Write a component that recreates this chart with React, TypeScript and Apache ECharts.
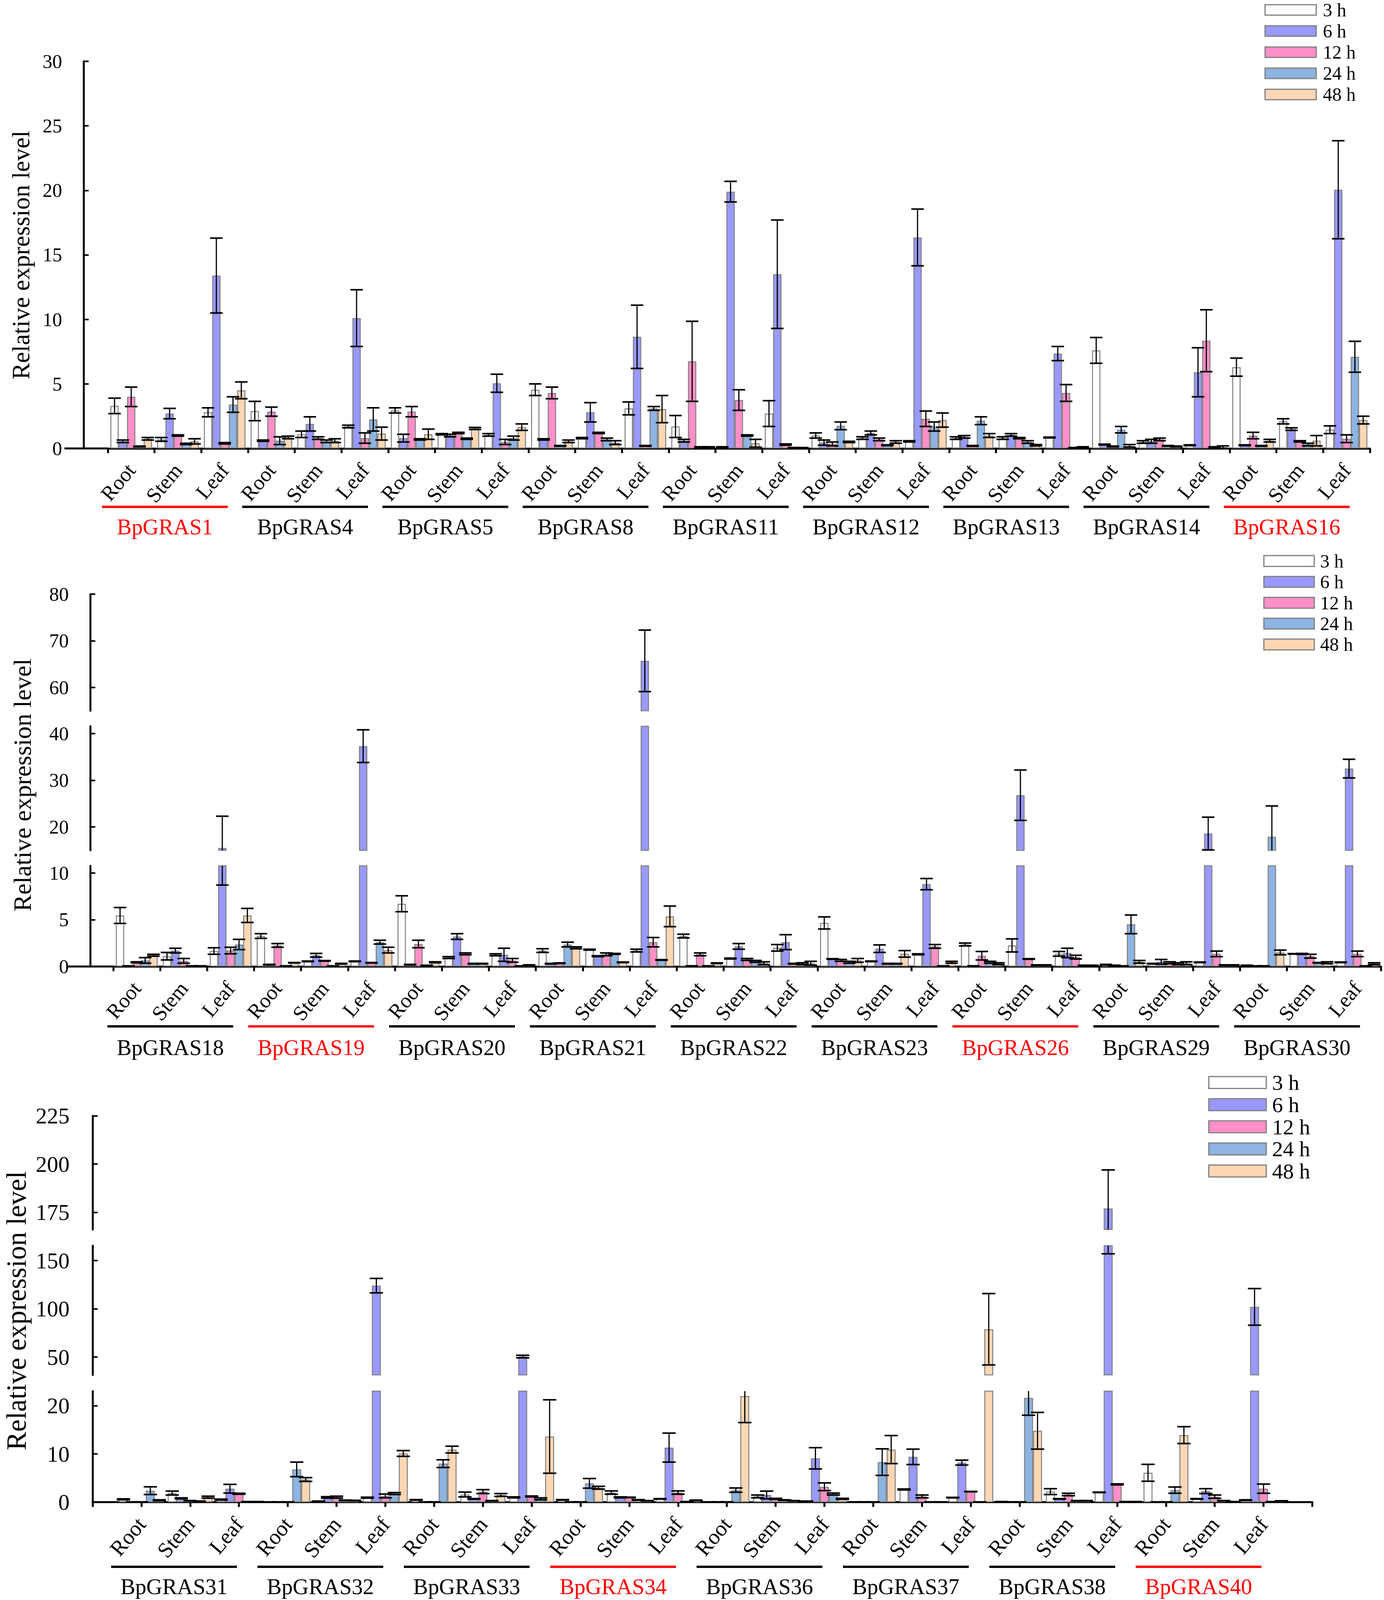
import React, { useEffect, useRef } from 'react';
import * as echarts from 'echarts';

const FONT = "'Liberation Serif', 'Times New Roman', serif";
const TIMES = ['3 h', '6 h', '12 h', '24 h', '48 h'];
const TISSUES = ['Root', 'Stem', 'Leaf'];
const COLORS = ['#FFFFFF', '#9999FF', '#FF8FC8', '#8DB4E2', '#FDD7B4'];
const RED_GENES = ['BpGRAS1', 'BpGRAS16', 'BpGRAS19', 'BpGRAS26', 'BpGRAS34', 'BpGRAS40'];
const Y_TITLE = 'Relative expression level';

// ---------- Panel 1 ----------
const GENES_1 = ['BpGRAS1', 'BpGRAS4', 'BpGRAS5', 'BpGRAS8', 'BpGRAS11', 'BpGRAS12', 'BpGRAS13', 'BpGRAS14', 'BpGRAS16'];
const P1_3H = [3.3, 0.7, 2.8, 2.9, 1.1, 1.7, 2.95, 1.1, 1.05, 4.55, 0.8, 3.1, 1.7, 0.1, 2.7, 1.0, 0.8, 0.55, 0.8, 0.8, 0.85, 7.6, 0.5, 0.25, 6.3, 2.1, 1.45];
const P1_3H_SD = [0.6, 0.15, 0.35, 0.75, 0.25, 0.1, 0.2, 0.05, 0.1, 0.45, 0.05, 0.5, 0.85, 0.03, 1.0, 0.2, 0.1, 0.05, 0.1, 0.1, 0.03, 1.0, 0.1, 0.03, 0.7, 0.2, 0.3];
const P1_6H = [0.55, 2.7, 13.4, 0.6, 1.9, 10.1, 0.8, 1.0, 5.05, 0.7, 2.8, 8.65, 0.6, 19.9, 13.5, 0.45, 1.2, 16.35, 0.9, 1.05, 7.35, 0.3, 0.55, 5.9, 0.25, 1.5, 20.05];
const P1_6H_SD = [0.1, 0.4, 2.9, 0.05, 0.55, 2.2, 0.3, 0.1, 0.7, 0.05, 0.75, 2.45, 0.1, 0.8, 4.2, 0.2, 0.15, 2.2, 0.1, 0.1, 0.55, 0.03, 0.15, 1.9, 0.03, 0.1, 3.8];
const P1_12H = [4.0, 1.0, 0.4, 2.85, 0.8, 0.8, 2.85, 1.2, 0.5, 4.3, 1.2, 0.2, 6.75, 3.75, 0.3, 0.35, 0.7, 2.3, 0.2, 0.8, 4.3, 0.15, 0.7, 8.35, 1.0, 0.55, 0.75];
const P1_12H_SD = [0.75, 0.05, 0.05, 0.35, 0.1, 0.4, 0.4, 0.05, 0.2, 0.45, 0.05, 0.03, 3.1, 0.8, 0.05, 0.15, 0.1, 0.6, 0.03, 0.05, 0.65, 0.03, 0.1, 2.4, 0.25, 0.05, 0.3];
const P1_24H = [0.15, 0.35, 3.4, 0.6, 0.55, 2.25, 0.7, 0.75, 0.8, 0.2, 0.7, 3.1, 0.1, 1.0, 0.05, 1.75, 0.25, 1.7, 2.15, 0.5, 0.05, 1.45, 0.2, 0.1, 0.2, 0.3, 7.1];
const P1_24H_SD = [0.03, 0.05, 0.6, 0.3, 0.1, 0.9, 0.05, 0.05, 0.15, 0.03, 0.1, 0.15, 0.03, 0.05, 0.02, 0.3, 0.03, 0.35, 0.3, 0.1, 0.02, 0.25, 0.03, 0.03, 0.03, 0.1, 1.2];
const P1_48H = [0.75, 0.55, 4.5, 0.85, 0.6, 1.15, 1.1, 1.55, 1.65, 0.55, 0.45, 3.05, 0.1, 0.4, 0.05, 0.5, 0.5, 2.2, 1.0, 0.25, 0.1, 0.2, 0.15, 0.1, 0.6, 0.6, 2.2];
const P1_48H_SD = [0.1, 0.2, 0.65, 0.1, 0.15, 0.5, 0.4, 0.08, 0.25, 0.1, 0.15, 1.05, 0.03, 0.3, 0.02, 0.05, 0.1, 0.55, 0.15, 0.05, 0.03, 0.1, 0.03, 0.1, 0.1, 0.4, 0.3];

// ---------- Panel 2 ----------
const GENES_2 = ['BpGRAS18', 'BpGRAS19', 'BpGRAS20', 'BpGRAS21', 'BpGRAS22', 'BpGRAS23', 'BpGRAS26', 'BpGRAS29', 'BpGRAS30'];
const P2_3H = [5.45, 1.1, 1.65, 3.25, 0.55, 0.55, 6.7, 0.95, 1.25, 1.7, 1.8, 1.7, 3.25, 0.85, 2.0, 4.65, 0.55, 1.3, 2.35, 2.25, 1.35, 0.2, 0.3, 0.45, 0.1, 1.35, 0.45];
const P2_3H_SD = [0.85, 0.4, 0.35, 0.25, 0.03, 0.03, 0.85, 0.1, 0.1, 0.2, 0.05, 0.15, 0.2, 0.05, 0.35, 0.65, 0.03, 0.05, 0.15, 0.7, 0.25, 0.03, 0.03, 0.03, 0.03, 0.03, 0.03];
const P2_6H = [0.05, 1.7, 15.5, 0.2, 1.2, 37.3, 0.2, 3.2, 1.25, 0.3, 1.1, 65.7, 0.05, 2.15, 2.6, 0.8, 1.9, 8.8, 0.05, 26.8, 1.45, 0.1, 0.5, 18.6, 0.05, 1.35, 32.5];
const P2_6H_SD = [0.02, 0.25, 6.8, 0.03, 0.2, 3.5, 0.03, 0.3, 0.7, 0.03, 0.05, 6.6, 0.02, 0.3, 0.8, 0.03, 0.4, 0.6, 0.02, 5.4, 0.5, 0.03, 0.25, 3.5, 0.02, 0.05, 2.0];
const P2_12H = [0.45, 0.6, 1.7, 2.25, 0.6, 0.4, 2.4, 1.35, 0.65, 0.35, 1.3, 2.6, 1.3, 0.75, 0.3, 0.65, 0.3, 2.15, 1.15, 0.8, 1.0, 0.05, 0.4, 1.35, 0.05, 1.1, 1.35];
const P2_12H_SD = [0.05, 0.25, 0.35, 0.2, 0.03, 0.03, 0.4, 0.1, 0.2, 0.03, 0.15, 0.5, 0.15, 0.1, 0.03, 0.1, 0.03, 0.2, 0.45, 0.03, 0.2, 0.02, 0.1, 0.3, 0.02, 0.2, 0.3];
const P2_24H = [0.65, 0.05, 2.35, 0.05, 0.05, 2.6, 0.1, 0.3, 0.05, 2.35, 1.35, 0.7, 0.05, 0.55, 0.3, 0.45, 0.3, 0.05, 0.45, 0.15, 0.1, 4.5, 0.3, 0.15, 17.9, 0.4, 0.05];
const P2_24H_SD = [0.3, 0.02, 0.55, 0.02, 0.02, 0.2, 0.03, 0.03, 0.02, 0.25, 0.05, 0.03, 0.02, 0.1, 0.1, 0.1, 0.03, 0.02, 0.1, 0.03, 0.03, 1.0, 0.1, 0.03, 6.6, 0.03, 0.02];
const P2_48H = [1.2, 0.05, 5.45, 0.4, 0.3, 1.75, 0.45, 0.3, 0.15, 2.0, 0.45, 5.35, 0.35, 0.35, 0.35, 0.65, 1.35, 0.45, 0.3, 0.15, 0.1, 0.5, 0.35, 0.15, 1.5, 0.4, 0.3];
const P2_48H_SD = [0.1, 0.02, 0.75, 0.03, 0.03, 0.3, 0.05, 0.03, 0.03, 0.1, 0.03, 1.1, 0.03, 0.15, 0.2, 0.2, 0.35, 0.1, 0.1, 0.03, 0.03, 0.15, 0.15, 0.03, 0.25, 0.1, 0.1];

// ---------- Panel 3 ----------
const GENES_3 = ['BpGRAS31', 'BpGRAS32', 'BpGRAS33', 'BpGRAS34', 'BpGRAS36', 'BpGRAS37', 'BpGRAS38', 'BpGRAS40'];
const P3_3H = [0.6, 1.9, 0.55, 0.05, 0.2, 0.95, 0.5, 1.6, 1.0, 0.5, 2.0, 0.7, 0.05, 1.2, 0.2, 0.05, 2.65, 0.95, 0.1, 2.2, 2.05, 6.1, 0.7, 0.45];
const P3_3H_SD = [0.1, 0.4, 0.1, 0.02, 0.03, 0.1, 0.05, 0.5, 0.1, 0.05, 0.35, 0.05, 0.02, 0.3, 0.03, 0.02, 0.1, 0.05, 0.03, 0.6, 0.05, 1.75, 0.05, 0.05];
const P3_6H = [0.05, 0.8, 2.8, 0.05, 1.0, 124, 0.05, 0.7, 50.5, 0.05, 1.0, 11.3, 0.05, 1.5, 9.1, 0.05, 9.4, 8.2, 0.05, 0.7, 177, 0.05, 2.3, 102];
const P3_6H_SD = [0.02, 0.1, 0.9, 0.02, 0.15, 7.5, 0.02, 0.05, 1.3, 0.02, 0.1, 3.0, 0.02, 0.8, 2.2, 0.02, 1.6, 0.5, 0.02, 0.05, 20, 0.02, 0.5, 19];
const P3_12H = [0.05, 0.3, 1.75, 0.05, 1.05, 1.3, 0.05, 2.2, 1.2, 0.05, 1.0, 2.0, 0.05, 0.7, 3.2, 0.05, 1.2, 2.2, 0.05, 1.6, 3.7, 0.05, 1.15, 2.8];
const P3_12H_SD = [0.02, 0.05, 0.1, 0.02, 0.2, 0.4, 0.02, 0.4, 0.1, 0.02, 0.05, 0.35, 0.02, 0.1, 0.8, 0.02, 0.3, 0.05, 0.02, 0.25, 0.1, 0.02, 0.35, 0.95];
const P3_24H = [2.4, 0.2, 0.1, 6.8, 0.4, 1.8, 8.0, 0.3, 0.7, 3.9, 0.5, 0.1, 2.5, 0.45, 1.7, 8.3, 0.05, 0.05, 21.6, 0.3, 0.1, 2.5, 0.3, 0.1];
const P3_24H_SD = [0.8, 0.03, 0.03, 1.5, 0.05, 0.2, 0.8, 0.05, 0.2, 1.0, 0.05, 0.03, 0.45, 0.05, 0.2, 2.75, 0.02, 0.02, 3.6, 0.05, 0.03, 0.65, 0.05, 0.03];
const P3_48H = [0.4, 1.05, 0.1, 4.7, 0.35, 10.1, 10.9, 1.5, 13.6, 3.0, 0.3, 0.4, 22.0, 0.3, 0.7, 10.9, 0.05, 78.8, 14.8, 0.3, 0.1, 13.9, 0.1, 0.25];
const P3_48H_SD = [0.1, 0.2, 0.03, 0.4, 0.05, 0.6, 0.7, 0.3, 7.6, 0.3, 0.05, 0.05, 5.5, 0.05, 0.1, 2.9, 0.02, 37, 3.8, 0.05, 0.03, 1.75, 0.03, 0.05];

// ---------- Tick values for the (broken) y axes ----------
const P1_TICKS = [[0, 5, 10, 15, 20, 25, 30]];
const P2_TICKS = [[0, 5, 10], [20, 30, 40], [60, 70, 80]];
const P3_TICKS = [[0, 10, 20], [50, 100, 150], [175, 200, 225]];

const PANELS = [
  { genes: GENES_1, means: [P1_3H, P1_6H, P1_12H, P1_24H, P1_48H], sds: [P1_3H_SD, P1_6H_SD, P1_12H_SD, P1_24H_SD, P1_48H_SD], ticks: P1_TICKS },
  { genes: GENES_2, means: [P2_3H, P2_6H, P2_12H, P2_24H, P2_48H], sds: [P2_3H_SD, P2_6H_SD, P2_12H_SD, P2_24H_SD, P2_48H_SD], ticks: P2_TICKS },
  { genes: GENES_3, means: [P3_3H, P3_6H, P3_12H, P3_24H, P3_48H], sds: [P3_3H_SD, P3_6H_SD, P3_12H_SD, P3_24H_SD, P3_48H_SD], ticks: P3_TICKS },
];

// ---------- Layout (pixels, for a 3543 x 4435 page) ----------
const FULL_W = 3543;
const FULL_H = 4435;
const LAYOUT = [
  {
    yAxisX: 214, plotLeft: 276, plotRight: 3507, padEnds: false, xLineStart: 165, gapFrac: 0.11, capW: 32,
    segs: [{ top: 170, bottom: 1243, min: 0, max: 30 }],
    labelFont: 52, labelMargin: 55, catFont: 56, catMargin: 50,
    titleX: 54, titleY: 707, titleFont: 66, lineY: 1405, textY: 1460,
    legend: { left: 3237, top: 2.5, w: 131, h: 29, gap: 8.7, font: 50, pad: 12 },
  },
  {
    yAxisX: 231, plotLeft: 290, plotRight: 3535, padEnds: false, xLineStart: 174, gapFrac: 0.11, capW: 32,
    segs: [
      { top: 2400, bottom: 2679, min: 0, max: 10.75 },
      { top: 2013, bottom: 2357, min: 15, max: 41.57 },
      { top: 1647, bottom: 1970, min: 55, max: 80 },
    ],
    labelFont: 52, labelMargin: 55, catFont: 56, catMargin: 50,
    titleX: 57, titleY: 2176, titleFont: 67, lineY: 2845, textY: 2903,
    legend: { left: 3234, top: 1530, w: 129, h: 30, gap: 8, font: 50, pad: 10 },
  },
  {
    yAxisX: 237, plotLeft: 237, plotRight: 3359.5, padEnds: true, xLineStart: 0, gapFrac: 0.08, capW: 34,
    segs: [
      { top: 3856, bottom: 4164, min: 0, max: 23 },
      { top: 3453, bottom: 3811, min: 31.5, max: 165.4 },
      { top: 3093, bottom: 3408, min: 166.1, max: 225 },
    ],
    labelFont: 60, labelMargin: 59, catFont: 58, catMargin: 50,
    titleX: 42, titleY: 3633, titleFont: 74, lineY: 4343, textY: 4398,
    legend: { left: 3093, top: 2971.5, w: 147, h: 33, gap: 3, font: 58, pad: 10 },
  },
];

function makeErrorRenderer(gapFrac: number, capW: number) {
  return (params: any, api: any) => {
    const xi = api.value(0);
    const t = api.value(1);
    const m = api.value(2);
    const s = api.value(3);
    const band = api.size([1, 0])[0];
    const center = api.coord([xi, m])[0];
    const gw = band * (1 - gapFrac);
    const x = center - gw / 2 + (t + 0.5) * (gw / 5);
    const cs = params.coordSys;
    const top = cs.y;
    const bot = cs.y + cs.height;
    const yHi = api.coord([xi, m + s])[1];
    const yLo = api.coord([xi, m - s])[1];
    const children: any[] = [];
    const capStyle = { stroke: '#000', lineWidth: 4 };
    if (yHi <= bot + 0.5 && yLo >= top - 0.5) {
      children.push({
        type: 'line',
        shape: { x1: x, y1: Math.max(yHi, top), x2: x, y2: Math.min(yLo, bot) },
        style: { stroke: '#000', lineWidth: 3 },
      });
    }
    if (yHi >= top - 0.5 && yHi <= bot + 0.5) {
      children.push({ type: 'line', shape: { x1: x - capW / 2, y1: yHi, x2: x + capW / 2, y2: yHi }, style: capStyle });
    }
    if (yLo >= top - 0.5 && yLo <= bot + 0.5) {
      children.push({ type: 'line', shape: { x1: x - capW / 2, y1: yLo, x2: x + capW / 2, y2: yLo }, style: capStyle });
    }
    return { type: 'group', children };
  };
}

function buildOption(sy: number) {
  const Y = (v: number) => v * sy;
  const fsy = Math.sqrt(sy);
  const F = (v: number) => Math.round(v * fsy * 10) / 10;
  const grid: any[] = [];
  const xAxis: any[] = [];
  const yAxis: any[] = [];
  const series: any[] = [];
  const graphic: any[] = [];
  const legend: any[] = [];

  PANELS.forEach((p, pi) => {
    const L = LAYOUT[pi];
    const nCat = p.genes.length * 3;
    const cats: string[] = [];
    p.genes.forEach(() => TISSUES.forEach((t) => cats.push(t)));
    const axisCats = L.padEnds ? ['', ...cats, ''] : cats;
    const off = L.padEnds ? 1 : 0;

    L.segs.forEach((sg, si) => {
      const gi = grid.length;
      const isBottom = si === 0;
      grid.push({ left: L.plotLeft, top: Y(sg.top), width: L.plotRight - L.plotLeft, height: Y(sg.bottom) - Y(sg.top) });
      xAxis.push({
        type: 'category',
        gridIndex: gi,
        data: axisCats,
        boundaryGap: !L.padEnds,
        show: isBottom,
        axisLine: { show: true, onZero: false, lineStyle: { color: '#000', width: 5 } },
        axisTick: { show: true, interval: 0, alignWithLabel: false, length: Y(13), inside: false, lineStyle: { color: '#000', width: 5 } },
        axisLabel: {
          show: true, interval: 0, rotate: 50, margin: Y(L.catMargin),
          fontSize: F(L.catFont), fontFamily: FONT, color: '#000',
        },
        splitLine: { show: false },
      });
      yAxis.push({
        type: 'value',
        gridIndex: gi,
        min: sg.min,
        max: sg.max,
        offset: L.plotLeft - L.yAxisX,
        axisLine: { show: true, lineStyle: { color: '#000', width: 5 } },
        axisTick: { show: true, inside: true, length: 13, lineStyle: { color: '#000', width: 4 }, customValues: p.ticks[si] },
        axisLabel: { show: true, margin: L.labelMargin, fontSize: F(L.labelFont), fontFamily: FONT, color: '#000', customValues: p.ticks[si] },
        splitLine: { show: false },
      });
      TIMES.forEach((name, t) => {
        const vals = p.means[t];
        const data = L.padEnds ? ['-', ...vals, '-'] : vals.slice();
        series.push({
          type: 'bar',
          name,
          xAxisIndex: gi,
          yAxisIndex: gi,
          data,
          barGap: '0%',
          barCategoryGap: Math.round(L.gapFrac * 100) + '%',
          clip: true,
          silent: true,
          itemStyle: { color: COLORS[t], borderColor: '#808080', borderWidth: 2.5 },
        });
      });
      const errData: number[][] = [];
      for (let i = 0; i < nCat; i++) {
        for (let t = 0; t < 5; t++) errData.push([i + off, t, p.means[t][i], p.sds[t][i]]);
      }
      series.push({
        type: 'custom',
        xAxisIndex: gi,
        yAxisIndex: gi,
        data: errData,
        encode: { x: 0, y: 2 },
        renderItem: makeErrorRenderer(L.gapFrac, L.capW),
        z: 5,
        silent: true,
      });
    });

    // y-axis title
    graphic.push({
      type: 'text',
      x: L.titleX,
      y: Y(L.titleY),
      rotation: Math.PI / 2,
      style: {
        text: Y_TITLE, fontSize: F(L.titleFont), fontFamily: FONT, fill: '#000',
        align: 'center', verticalAlign: 'middle',
      },
    });

    // gene labels + underlines
    const catW = L.padEnds ? (L.plotRight - L.plotLeft) / (nCat + 1) : (L.plotRight - L.plotLeft) / nCat;
    const first = L.padEnds ? L.plotLeft + catW / 2 : L.plotLeft;
    p.genes.forEach((g, k) => {
      const cx = first + 3 * k * catW + 146;
      const col = RED_GENES.includes(g) ? '#FF0000' : '#000000';
      graphic.push({
        type: 'line',
        shape: { x1: cx - 161, y1: Y(L.lineY), x2: cx + 161, y2: Y(L.lineY) },
        style: { stroke: col, lineWidth: 6 },
      });
      graphic.push({
        type: 'text',
        x: cx,
        y: Y(L.textY),
        style: { text: g, fontSize: F(59), fontFamily: FONT, fill: col, align: 'center', verticalAlign: 'middle' },
      });
    });

    // x-axis line extends left of the y axis
    if (L.xLineStart) {
      const yb = Y(L.segs[0].bottom);
      graphic.push({
        type: 'line',
        shape: { x1: L.xLineStart, y1: yb, x2: L.plotLeft, y2: yb },
        style: { stroke: '#000', lineWidth: 5 },
      });
    }

    const lg = L.legend;
    const fs = F(lg.font);
    const rowH = (lg.font + lg.gap) * sy;
    const boxCenter0 = Y(lg.top + lg.font / 2);
    legend.push({
      data: TIMES,
      orient: 'vertical',
      left: lg.left,
      top: boxCenter0 - Math.max(fs, Y(lg.h)) / 2,
      padding: 0,
      itemWidth: lg.w,
      itemHeight: Y(lg.h),
      itemGap: Math.max(0, rowH - Math.max(fs, Y(lg.h))),
      icon: 'rect',
      selectedMode: false,
      itemStyle: { borderColor: '#808080', borderWidth: 3 },
      textStyle: { fontSize: fs, fontFamily: FONT, color: '#000', padding: [0, 0, 0, lg.pad] },
    });
  });

  return {
    animation: false,
    backgroundColor: '#ffffff',
    grid,
    xAxis,
    yAxis,
    series,
    graphic,
    legend,
  };
}

function pageHeight() {
  if (typeof window === 'undefined') return FULL_H;
  const h = window.innerHeight || FULL_H;
  return Math.min(FULL_H, Math.max(1000, Math.floor(h)));
}

export default function App() {
  const ref = useRef<HTMLDivElement>(null);
  const H = pageHeight();
  useEffect(() => {
    document.body.style.margin = '0';
    document.body.style.overflow = 'hidden';
    document.documentElement.style.overflow = 'hidden';
    if (!ref.current) return;
    const chart = echarts.init(ref.current, undefined, { renderer: 'svg' });
    chart.setOption(buildOption(H / FULL_H) as any);
    return () => {
      chart.dispose();
    };
  }, [H]);
  return <div ref={ref} style={{ width: FULL_W, height: H, background: '#fff' }} />;
}
